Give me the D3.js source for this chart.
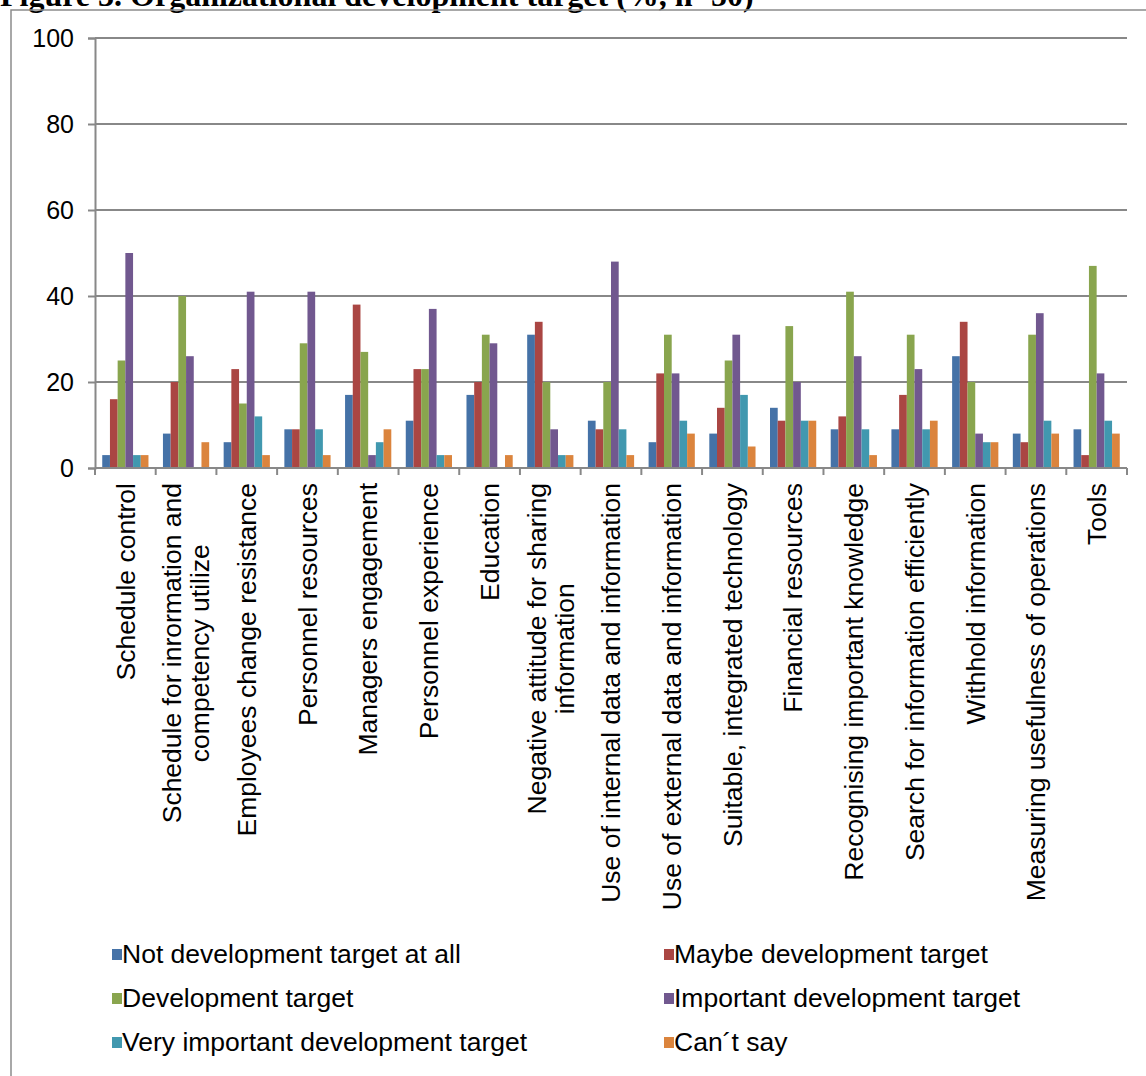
<!DOCTYPE html>
<html>
<head>
<meta charset="utf-8">
<script src="https://cdn.jsdelivr.net/npm/d3@7"></script>
<style>
  html, body { margin: 0; padding: 0; background: #fff; }
  svg { display: block; }
</style>
</head>
<body>
<svg id="chart" width="1146" height="1076"></svg>
<script>
// Categories (each entry is a list of label lines)
const categories = [
  ["Schedule control"],
  ["Schedule for inrormation and", "competency utilize"],
  ["Employees change resistance"],
  ["Personnel resources"],
  ["Managers engagement"],
  ["Personnel experience"],
  ["Education"],
  ["Negative attitude for sharing", "information"],
  ["Use of internal data and information"],
  ["Use of external data and information"],
  ["Suitable, integrated technology"],
  ["Financial resources"],
  ["Recognising important knowledge"],
  ["Search for information efficiently"],
  ["Withhold information"],
  ["Measuring usefulness of operations"],
  ["Tools"]
];

const seriesNames = [
  "Not development target at all",
  "Maybe development target",
  "Development target",
  "Important development target",
  "Very important development target",
  "Can\u00b4t say"
];

// Percent values per series, in category order
const notTarget       = [3, 8, 6, 9, 17, 11, 17, 31, 11, 6, 8, 14, 9, 9, 26, 8, 9];
const maybeTarget     = [16, 20, 23, 9, 38, 23, 20, 34, 9, 22, 14, 11, 12, 17, 34, 6, 3];
const devTarget       = [25, 40, 15, 29, 27, 23, 31, 20, 20, 31, 25, 33, 41, 31, 20, 31, 47];
const importantTarget = [50, 26, 41, 41, 3, 37, 29, 9, 48, 22, 31, 20, 26, 23, 8, 36, 22];
const veryImportant   = [3, 0, 12, 9, 6, 3, 0, 3, 9, 11, 17, 11, 9, 9, 6, 11, 11];
const cantSay         = [3, 6, 3, 3, 9, 3, 3, 3, 3, 8, 5, 11, 3, 11, 6, 8, 8];

const yTicks = [0, 20, 40, 60, 80, 100];

const colors = ["#4572A7", "#AA4643", "#89A54E", "#71588F", "#4198AF", "#DB843D"];

const seriesValues = [notTarget, maybeTarget, devTarget, importantTarget, veryImportant, cantSay];

const svg = d3.select("#chart");
const font = "'Liberation Sans', Arial, sans-serif";

// Title (runs off the top of the page)
svg.append("text")
  .attr("x", 0).attr("y", 6)
  .attr("font-family", "'Liberation Serif', 'Times New Roman', serif")
  .attr("font-weight", "bold")
  .attr("font-size", 32)
  .attr("fill", "#000")
  .text("Figure 3. Organizational development target (%, n=50)");

// Chart frame
svg.append("rect")
  .attr("x", 11).attr("y", 10)
  .attr("width", 1200).attr("height", 1200)
  .attr("fill", "none")
  .attr("stroke", "#8c8c8c")
  .attr("stroke-width", 1.5);

const plotLeft = 95, plotRight = 1127, plotTop = 38, plotBottom = 468;

const x = d3.scaleBand()
  .domain(d3.range(categories.length))
  .range([plotLeft, plotRight])
  .paddingInner(0).paddingOuter(0);

const xs = d3.scaleBand()
  .domain(d3.range(seriesNames.length))
  .range([0, x.bandwidth()])
  .paddingInner(0).paddingOuter(0.94);

const y = d3.scaleLinear().domain([0, 100]).range([plotBottom, plotTop]);

const gridColor = "#888888";

// Horizontal gridlines
svg.append("g")
  .selectAll("line")
  .data(yTicks.filter(t => t > 0))
  .join("line")
  .attr("x1", plotLeft).attr("x2", plotRight)
  .attr("y1", d => y(d)).attr("y2", d => y(d))
  .attr("stroke", gridColor)
  .attr("stroke-width", 2);

// Y axis
const yAxis = d3.axisLeft(y).tickValues(yTicks).tickSize(7).tickPadding(14).tickFormat(d3.format("d"));
const gy = svg.append("g").attr("transform", `translate(${plotLeft},0)`).call(yAxis);
gy.select(".domain").attr("stroke", gridColor).attr("stroke-width", 2);
gy.selectAll(".tick line").attr("stroke", gridColor).attr("stroke-width", 2);
gy.selectAll(".tick text")
  .attr("font-family", font).attr("font-size", 25).attr("fill", "#000");

// Bars
const groups = svg.append("g")
  .selectAll("g")
  .data(d3.range(categories.length))
  .join("g")
  .attr("transform", i => `translate(${x(i)},0)`);

groups.selectAll("rect")
  .data(i => seriesValues.map((vals, s) => ({ s, v: vals[i] })))
  .join("rect")
  .attr("x", d => xs(d.s))
  .attr("width", xs.bandwidth())
  .attr("y", d => y(d.v))
  .attr("height", d => y(0) - y(d.v))
  .attr("fill", d => colors[d.s]);

// X axis with ticks at category boundaries
const gx = svg.append("g");
gx.append("line")
  .attr("x1", plotLeft).attr("x2", plotRight)
  .attr("y1", plotBottom).attr("y2", plotBottom)
  .attr("stroke", gridColor).attr("stroke-width", 2);
gx.selectAll("line.tk")
  .data(d3.range(categories.length + 1))
  .join("line")
  .attr("class", "tk")
  .attr("x1", i => plotLeft + i * x.step()).attr("x2", i => plotLeft + i * x.step())
  .attr("y1", plotBottom).attr("y2", plotBottom + 7)
  .attr("stroke", gridColor).attr("stroke-width", 2);

// Category labels, rotated; multi-line labels are centred as a block
const lineGap = 28;
const labels = svg.append("g")
  .selectAll("text")
  .data(categories.map((c, i) => ({ c, i })))
  .join("text")
  .attr("font-family", font)
  .attr("font-size", 26.5)
  .attr("fill", "#000")
  .attr("transform", d => `translate(${x(d.i) + x.bandwidth() / 2},${plotBottom + 15}) rotate(-90)`);

labels.each(function (d) {
  const n = d.c.length;
  const sel = d3.select(this);
  const spans = sel.selectAll("tspan")
    .data(d.c)
    .join("tspan")
    .attr("x", 0)
    .attr("y", (t, k) => (k - (n - 1) / 2) * lineGap)
    .attr("dy", "0.35em")
    .text(t => t);
  if (n === 1) {
    sel.attr("text-anchor", "end");
  } else {
    const widths = [];
    spans.each(function () { widths.push(this.getComputedTextLength()); });
    const maxW = d3.max(widths);
    sel.attr("text-anchor", "middle");
    spans.attr("x", -maxW / 2);
  }
});

// Legend
const legendItems = seriesNames.map((name, s) => ({
  name, s,
  lx: s % 2 === 0 ? 112 : 664,
  ly: 954 + Math.floor(s / 2) * 44
}));
const lg = svg.append("g").selectAll("g").data(legendItems).join("g")
  .attr("transform", d => `translate(${d.lx},${d.ly})`);
lg.append("rect")
  .attr("x", 0).attr("y", -5).attr("width", 10).attr("height", 11)
  .attr("fill", d => colors[d.s]);
lg.append("text")
  .attr("x", 10).attr("y", 0).attr("dy", "0.35em")
  .attr("font-family", font).attr("font-size", 26.5)
  .attr("fill", "#000")
  .text(d => d.name);
</script>
</body>
</html>
